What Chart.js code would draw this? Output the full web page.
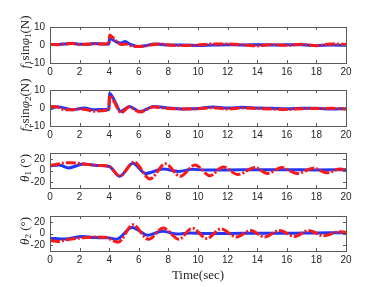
<!DOCTYPE html>
<html>
<head>
<meta charset="utf-8">
<script src="https://cdn.jsdelivr.net/npm/chart.js@4/dist/chart.umd.min.js"></script>
<style>
  html, body { margin: 0; padding: 0; background: #fff; }
  #stage { position: relative; width: 382px; height: 287px; overflow: hidden; }
  #stage canvas { position: absolute; left: 0; }
  .ylab {
    position: absolute; width: 90px; height: 16px; line-height: 16px;
    text-align: center; white-space: nowrap; color: #262626;
    font-family: "Liberation Serif", "DejaVu Serif", serif; font-size: 13px;
    transform: rotate(-90deg);
  }
  .ylab sub { font-size: 9px; vertical-align: -2px; line-height: 0; }
  #xlab {
    position: absolute; left: 148px; width: 100px; top: 267px; text-align: center;
    font-family: "Liberation Serif", "DejaVu Serif", serif; font-size: 13px; color: #262626;
  }
</style>
</head>
<body>
<div id="stage">
  <canvas id="c1" width="382" height="65"></canvas>
  <canvas id="c2" width="382" height="65"></canvas>
  <canvas id="c3" width="382" height="64"></canvas>
  <canvas id="c4" width="382" height="64"></canvas>
  <div class="ylab" id="l1"><i>f</i><sub>1</sub>sin<i>φ</i><sub>1</sub>(N)</div>
  <div class="ylab" id="l2"><i>f</i><sub>2</sub>sin<i>φ</i><sub>2</sub>(N)</div>
  <div class="ylab" id="l3"><i>θ</i><sub>1</sub> (°)</div>
  <div class="ylab" id="l4"><i>θ</i><sub>2</sub> (°)</div>
  <div id="xlab">Time(sec)</div>
</div>
<script>
// tick labels
const timeTicks = [0, 2, 4, 6, 8, 10, 12, 14, 16, 18, 20];
const forceTicks = [-10, 0, 10];
const angleTicks = [-20, 0, 20];

// f1 sin(phi1): red = reference, blue = response
const f1RefT = [0, 0.5, 1, 1.5, 2, 2.5, 3, 3.5, 3.97, 4.03, 4.2, 4.5, 4.8, 5.1, 5.5, 5.9, 6.4, 7, 7.5, 8, 9, 10, 11, 12, 13, 14, 15, 16, 17, 18, 19, 20];
const f1RefY = [0.3, 0.2, 0.6, 0.8, 0.3, 0.4, 0.7, 0.5, 0.5, 5.6, 4.5, 2, 0.3, 0.5, -0.5, -0.8, -0.6, 0.3, 0.5, 0, -0.3, 0, 0.6, 0.6, 0.2, -0.5, 0.3, -0.2, 0.4, -0.3, 0.6, 0.3];
const f1ActT = [0, 0.5, 1, 1.5, 2, 2.5, 3, 3.5, 3.97, 4.03, 4.5, 4.8, 5.07, 5.4, 5.97, 6.5, 7, 7.5, 8, 9, 10, 11, 12, 13, 14, 15, 16, 17, 18, 19, 20];
const f1ActY = [0.3, 0.3, 0.5, 1, 0.4, 0.4, 0.8, 0.6, 0.5, 3.7, 1.6, 1.1, 1.9, 0.5, -0.8, -0.3, 0.5, 0.3, 0, 0, -0.3, 0, 0.2, 0, 0.2, 0, 0.1, 0.1, -0.4, 0, -0.2];

// f2 sin(phi2)
const f2RefT = [0, 0.5, 1, 1.5, 2, 2.5, 3, 3.5, 3.97, 4.03, 4.3, 4.8, 5.36, 6.08, 7, 8, 9, 10, 11, 12, 13, 14, 15, 16, 17, 18, 19, 20];
const f2RefY = [1, 0.5, -1, -1, -0.5, -1, -1.8, -1.5, -1, 7, 4, -2.6, 0.5, -2.2, 0.6, -0.3, -0.5, -0.4, 0.2, -0.6, 0, -0.3, -0.6, -0.8, -0.4, -0.3, -0.2, -0.5];
const f2ActT = [0, 0.5, 1.5, 2.3, 3, 3.5, 3.97, 4.03, 4.3, 4.78, 5.36, 6.08, 7, 8, 9, 10, 11, 12, 13, 14, 15, 16, 17, 18, 19, 20];
const f2ActY = [-0.5, 0.7, -1, 0, -1, -0.8, -0.8, 8, 5, -1.9, 0.8, -1.9, 0.8, 0, -0.5, -0.3, 0.6, 0, 0.4, 0, -0.2, -0.4, -0.2, -0.2, -0.6, -0.4];

// theta1 (deg)
const th1RefT = [0, 1.35, 2.5, 3.3, 4.0, 4.7, 5.7, 6.75, 7.8, 8.8, 9.8, 10.8, 11.7, 12.7, 13.85, 14.7, 15.65, 16.7, 17.8, 18.7, 19.6, 20];
const th1RefY = [9, 13.5, 10.5, 8.5, 7, -9.5, 14.5, -14.5, 11.5, -10, 9.5, -9, 6, -7, 5, -5, 5, -5, 4, -4, 2.5, 1.5];
const th1ActT = [0, 0.6, 1.25, 2.25, 3.2, 4.0, 4.7, 5.6, 6.45, 7.65, 8.7, 9.6, 10.5, 12, 14, 16, 18, 20];
const th1ActY = [8, 9.5, 4.5, 11, 8.5, 7, -10, 12.5, -5, 2.5, -1.5, 2, 1, 1, 1.2, 1.2, 1, 1.2];

// theta2 (deg)
const th2RefT = [0, 0.5, 1.2, 2.2, 3.2, 3.8, 4.6, 5.6, 6.65, 7.65, 8.7, 9.6, 10.6, 11.55, 12.6, 13.55, 14.5, 15.5, 16.55, 17.45, 18.5, 19.5, 20];
const th2RefY = [-12, -13.5, -10.5, -7.5, -6, -7, -15, 15, -10, 9.5, -10, 9, -8.5, 8, -6, 5, -6, 5, -5, 5, -4, 3, 2];
const th2ActT = [0, 1.0, 2.2, 3.0, 4.0, 4.5, 5.55, 6.6, 7.6, 8.6, 9.5, 10.5, 12, 14, 16, 18, 20];
const th2ActY = [-8, -9.5, -5, -7, -7.5, -10, 10.5, -3, 4, -1, 1, 0, 0, 0.5, 0.5, 1, 1.5];

const RED = 'rgb(250,25,25)';
const BLUE = 'rgb(35,55,250)';
const TICK_FONT = { family: '"Liberation Sans", Arial, sans-serif', size: 10 };

const pairs = (ts, ys) => ts.map((t, i) => ({ x: t, y: ys[i] }));

// draws the MATLAB-like box and the inward tick marks
const boxPlugin = {
  id: 'box',
  afterDraw(chart) {
    const { ctx, chartArea: a, scales: { x, y } } = chart;
    ctx.save();
    ctx.strokeStyle = '#5a5a5a';
    ctx.lineWidth = 1;
    ctx.strokeRect(Math.round(a.left) + 0.5, Math.round(a.top) + 0.5,
      Math.round(a.width), Math.round(a.height));
    ctx.beginPath();
    x.ticks.forEach((t) => {
      const px = Math.round(x.getPixelForValue(t.value)) + 0.5;
      ctx.moveTo(px, a.bottom); ctx.lineTo(px, a.bottom - 3);
      ctx.moveTo(px, a.top); ctx.lineTo(px, a.top + 3);
    });
    y.ticks.forEach((t) => {
      const py = Math.round(y.getPixelForValue(t.value)) + 0.5;
      ctx.moveTo(a.left, py); ctx.lineTo(a.left + 3, py);
      ctx.moveTo(a.right, py); ctx.lineTo(a.right - 3, py);
    });
    ctx.stroke();
    ctx.restore();
  }
};

function makePanel(id, top, refT, refY, actT, actY, yMin, yMax, yTicks) {
  const canvas = document.getElementById(id);
  canvas.style.top = top + 'px';
  return new Chart(canvas, {
    type: 'line',
    data: {
      datasets: [
        {
          data: pairs(refT, refY), borderColor: RED, borderWidth: 3,
          borderDash: [10, 2, 2, 2], pointRadius: 0, cubicInterpolationMode: 'monotone'
        },
        {
          data: pairs(actT, actY), borderColor: BLUE, borderWidth: 3,
          pointRadius: 0, cubicInterpolationMode: 'monotone'
        }
      ]
    },
    options: {
      responsive: false,
      animation: false,
      devicePixelRatio: 1,
      layout: { padding: { top: 5, right: 36, left: 0, bottom: 0 } },
      plugins: { legend: { display: false }, tooltip: { enabled: false } },
      scales: {
        x: {
          type: 'linear', min: 0, max: 20,
          afterBuildTicks: (s) => { s.ticks = timeTicks.map((v) => ({ value: v })); },
          afterFit: (s) => { s.height = 18; },
          grid: { display: false, drawTicks: false, tickLength: 0 }, border: { display: false },
          ticks: { color: '#262626', font: TICK_FONT, padding: 3, maxRotation: 0 }
        },
        y: {
          min: yMin, max: yMax,
          afterBuildTicks: (s) => { s.ticks = yTicks.map((v) => ({ value: v })); },
          afterFit: (s) => { s.width = 50; },
          grid: { display: false, drawTicks: false, tickLength: 0 }, border: { display: false },
          ticks: { color: '#262626', font: TICK_FONT, padding: 5 }
        }
      }
    },
    plugins: [boxPlugin]
  });
}

makePanel('c1', 16, f1RefT, f1RefY, f1ActT, f1ActY, -10, 10, forceTicks);
makePanel('c2', 79, f2RefT, f2RefY, f2ActT, f2ActY, -10, 10, forceTicks);
makePanel('c3', 142, th1RefT, th1RefY, th1ActT, th1ActY, -30, 30, angleTicks);
makePanel('c4', 205, th2RefT, th2RefY, th2ActT, th2ActY, -30, 30, angleTicks);

// rotated axis titles, centred on each plot box
[['l1', 42], ['l2', 105], ['l3', 168], ['l4', 231]].forEach(([id, cy]) => {
  const el = document.getElementById(id);
  el.style.left = (25 - 45) + 'px';
  el.style.top = (cy - 8) + 'px';
});
</script>
</body>
</html>
